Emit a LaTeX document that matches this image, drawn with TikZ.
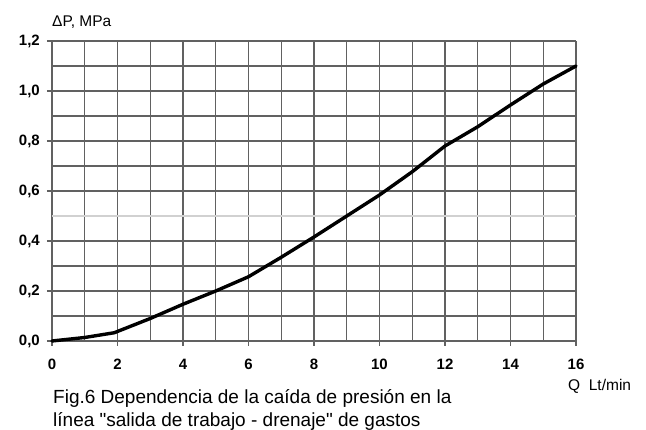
\documentclass[tikz,border=0pt]{standalone}
\usepackage{fontspec}
\setmainfont{Liberation Sans}[Ligatures=TeXOff]
\begin{document}
\begin{tikzpicture}[x=32.75pt,y=250pt,
  gridline/.style={draw=black!62,line width=1.2pt},
  lightline/.style={draw=black!18,line width=1.2pt},
  curveline/.style={draw=black,line width=3.4pt,line join=round,line cap=round},
  ticklab/.style={inner sep=0pt,font=\fontsize{15}{18}\selectfont\bfseries},
  axlab/.style={inner sep=0pt,font=\fontsize{15.5}{18}\selectfont},
  caption/.style={inner sep=0pt,anchor=base west,font=\fontsize{19}{22}\selectfont}]
\useasboundingbox (-52pt,-89pt) rectangle (594pt,341pt);
% vertical grid lines
\foreach \i in {0,...,16}{
  \pgfmathtruncatemacro{\r}{mod(\i,2)}
  \ifnum\r=0
    \draw[gridline] (\i,0) ++(0,-5pt) -- (\i,1.2);
    \node[ticklab,anchor=base] (x\i) at ([yshift=-29pt]\i,0) {\i};
  \else
    \draw[gridline] (\i,0) -- (\i,1.2);
  \fi
}
% horizontal grid lines
\foreach \j in {0,...,12}{
  \pgfmathsetmacro{\yy}{\j/10}
  \pgfmathtruncatemacro{\r}{mod(\j,2)}
  \ifnum\j=5
    \draw[lightline] (0,\yy) -- (16,\yy);
  \else
    \ifnum\r=0
      \draw[gridline] (0,\yy) ++(-5pt,0) -- (16,\yy);
    \else
      \draw[gridline] (0,\yy) -- (16,\yy);
    \fi
  \fi
}
\foreach \j/\t in {0/{0,0},2/{0,2},4/{0,4},6/{0,6},8/{0,8},10/{1,0},12/{1,2}}{
  \pgfmathsetmacro{\yy}{\j/10}
  \node[ticklab,anchor=east] (y\j) at ([xshift=-12pt]0,\yy) {\t};
}
% curve
\draw[curveline] plot coordinates {(0,0) (1,0.014) (1.9,0.033) (3,0.09) (4,0.147) (5,0.2) (6,0.257) (7,0.335) (8,0.416) (9,0.5) (10,0.584) (11,0.677) (12,0.78) (13,0.857) (14,0.944) (15,1.028) (16,1.1)};
% axis labels
\node[axlab,anchor=base west] (ylab) at (0pt,314pt) {ΔP, MPa};
\node[axlab,anchor=base west] (xlab) at (516pt,-50pt) {Q\ \ Lt/min};
% caption
\node[caption] (cap1) at (1pt,-62.5pt) {Fig.6 Dependencia de la caída de presión en la};
\node[caption] (cap2) at (1pt,-86pt) {línea "salida de trabajo - drenaje" de gastos};
\end{tikzpicture}
\end{document}
